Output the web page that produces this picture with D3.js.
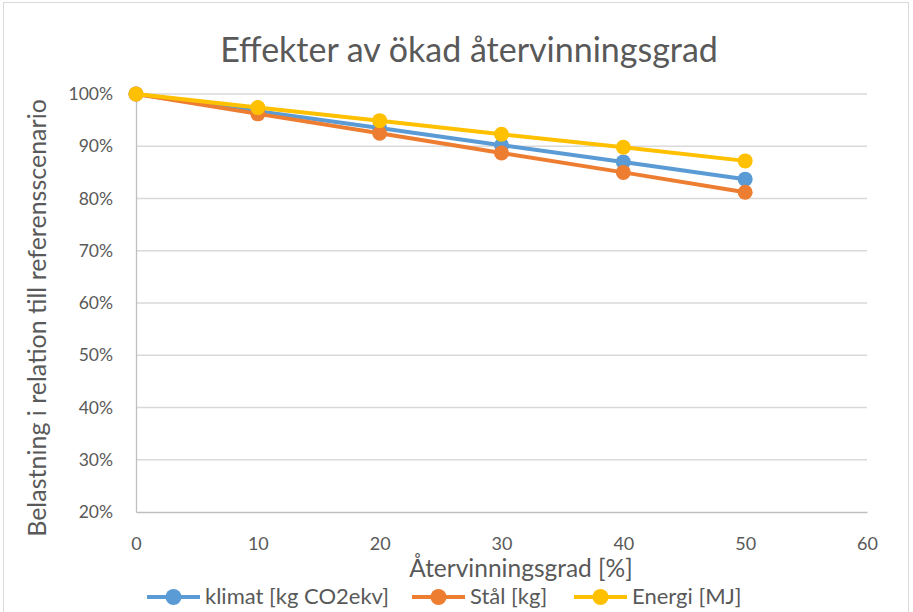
<!DOCTYPE html>
<html>
<head>
<meta charset="utf-8">
<script src="https://cdn.jsdelivr.net/npm/d3@7"></script>
<style>
  body { margin: 0; background: #fff; }
  text { font-family: Lato, "Liberation Sans", sans-serif; fill: #595959; }
</style>
</head>
<body>
<div id="chart"></div>
<script>
// data
var xValues = [0, 10, 20, 30, 40, 50];
var klimat = [100, 96.7, 93.5, 90.2, 87.0, 83.7];
var stal = [100, 96.2, 92.5, 88.7, 85.0, 81.2];
var energi = [100, 97.4, 94.9, 92.3, 89.8, 87.2];
var seriesNames = ["klimat [kg CO2ekv]", "Stål [kg]", "Energi [MJ]"];
var xTicks = [0, 10, 20, 30, 40, 50, 60];
var yTicks = [20, 30, 40, 50, 60, 70, 80, 90, 100];

var colors = ["#5B9BD5", "#ED7D31", "#FFC000"];
var series = [klimat, stal, energi];

var W = 913, H = 612;
var margin = { top: 94, right: 46, bottom: 100, left: 136 },
    width = W - margin.left - margin.right,
    height = H - margin.top - margin.bottom;

var x = d3.scaleLinear().domain([0, 60]).range([0, width]);
var y = d3.scaleLinear().domain([20, 100]).range([height, 0]);

var svg = d3.select("#chart").append("svg")
    .attr("width", W)
    .attr("height", H);

// outer frame
svg.append("rect")
    .attr("x", 3.5).attr("y", 2.5)
    .attr("width", 905).attr("height", 620)
    .attr("fill", "none")
    .attr("stroke", "#d9d9d9");

var g = svg.append("g")
    .attr("transform", "translate(" + margin.left + "," + margin.top + ")");

// gridlines
g.selectAll(".grid").data(yTicks.slice(1)).enter().append("line")
    .attr("x1", 0).attr("x2", width)
    .attr("y1", function (d) { return y(d); })
    .attr("y2", function (d) { return y(d); })
    .attr("stroke", "#d9d9d9").attr("stroke-width", 1.3);

// x axis
var xAxis = g.append("g")
    .attr("transform", "translate(0," + height + ")")
    .call(d3.axisBottom(x).tickValues(xTicks).tickSize(0).tickPadding(25));
xAxis.select(".domain").attr("stroke", "#bfbfbf").attr("stroke-width", 1.3);
xAxis.selectAll("text").style("font-size", "18px").attr("fill", "#595959");

// y axis
var yAxis = g.append("g")
    .call(d3.axisLeft(y).tickValues(yTicks).tickSize(0).tickPadding(23)
        .tickFormat(function (d) { return d + "%"; }));
yAxis.select(".domain").attr("stroke", "#bfbfbf").attr("stroke-width", 1.3);
yAxis.selectAll("text").style("font-size", "17.5px").attr("fill", "#595959");

// lines and markers
var line = d3.line()
    .x(function (d, i) { return x(xValues[i]); })
    .y(function (d) { return y(d); });

series.forEach(function (s, k) {
    g.append("path")
        .datum(s)
        .attr("fill", "none")
        .attr("stroke", colors[k])
        .attr("stroke-width", 4)
        .attr("stroke-linecap", "round")
        .attr("d", line);
    g.selectAll(".dot" + k).data(s).enter().append("circle")
        .attr("cx", function (d, i) { return x(xValues[i]); })
        .attr("cy", function (d) { return y(d); })
        .attr("r", 7.5)
        .attr("fill", colors[k]);
});

// title
svg.append("text")
    .attr("x", 469).attr("y", 62)
    .attr("text-anchor", "middle")
    .style("font-size", "34px")
    .text("Effekter av ökad återvinningsgrad");

// axis titles
svg.append("text")
    .attr("x", 521).attr("y", 577)
    .attr("text-anchor", "middle")
    .style("font-size", "24.5px")
    .text("Återvinningsgrad [%]");

svg.append("text")
    .attr("transform", "translate(46," + 318 + ") rotate(-90)")
    .attr("text-anchor", "middle")
    .style("font-size", "25px")
    .text("Belastning i relation till referensscenario");

// legend
var legendX = [147, 412, 574];
var lg = svg.append("g");
seriesNames.forEach(function (name, k) {
    var lx = legendX[k];
    lg.append("line")
        .attr("x1", lx).attr("x2", lx + 53)
        .attr("y1", 597).attr("y2", 597)
        .attr("stroke", colors[k]).attr("stroke-width", 4);
    lg.append("circle")
        .attr("cx", lx + 26.5).attr("cy", 597).attr("r", 8)
        .attr("fill", colors[k]);
    lg.append("text")
        .attr("x", lx + 58).attr("y", 604)
        .style("font-size", "22px")
        .text(name);
});
</script>
</body>
</html>
